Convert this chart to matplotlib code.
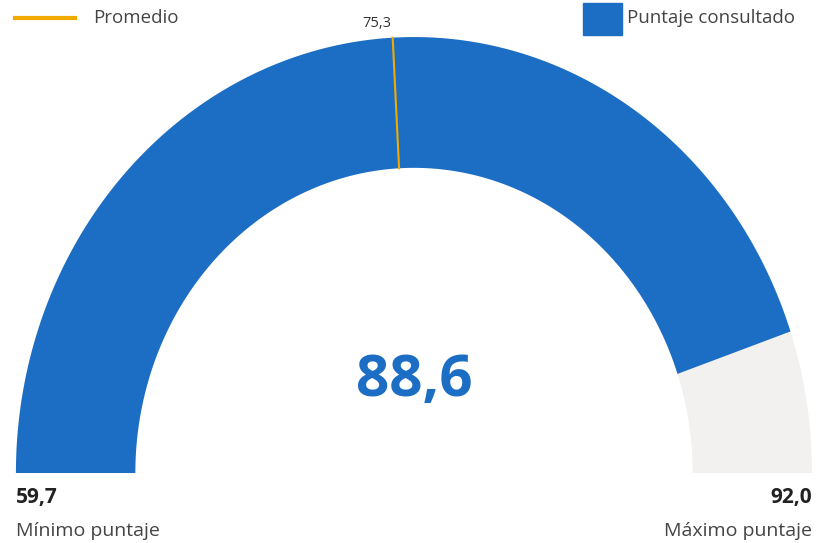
import numpy as np
import matplotlib.pyplot as plt

plt.rcParams['font.family'] = ['Open Sans', 'DejaVu Sans']

min_score = 59.7
max_score = 92.0
score = 88.6
average = 75.3
labels = ["Mínimo puntaje", "Máximo puntaje"]
legend_names = ["Promedio", "Puntaje consultado"]

blue = "#1c6ec4"
gray = "#f2f1f0"
orange = "#f0aa00"

r_in = 0.70
r_out = 1.0


def angle(v):
    return np.pi * (1 - (v - min_score) / (max_score - min_score))


def band(ax, v0, v1, color):
    t = np.linspace(angle(v0), angle(v1), 200)
    xs = np.concatenate([r_out * np.cos(t), r_in * np.cos(t[::-1])])
    ys = np.concatenate([r_out * np.sin(t), r_in * np.sin(t[::-1])])
    ax.fill(xs, ys, color=color, lw=0)


def fmt(v):
    return "{:.1f}".format(v).replace('.', ',')


fig = plt.figure(figsize=(8.16, 5.43), dpi=100)
ax = fig.add_axes([0, 0, 1, 1])
ax.set_xlim(-1.040, 1.010)
ax.set_ylim(-0.1606, 1.085)
ax.axis('off')

band(ax, min_score, max_score, gray)
band(ax, min_score, score, blue)

a = angle(average)
ax.plot([r_in * np.cos(a), r_out * np.cos(a)], [r_in * np.sin(a), r_out * np.sin(a)],
        color=orange, lw=1.5)
ax.text(r_out * np.cos(a) - 0.04, r_out * np.sin(a) + 0.015, fmt(average),
        ha='center', va='bottom', fontsize=10.5, color='#333333')

ax.text(0, 0.21, fmt(score), ha='center', va='center',
        fontsize=42, fontweight='bold', color=blue)

ax.text(-1.0, -0.057, fmt(min_score), ha='left', va='center',
        fontsize=15, fontweight='bold', color='#222222')
ax.text(-1.0, -0.133, labels[0], ha='left', va='center', fontsize=14, color='#444444')
ax.text(1.0, -0.057, fmt(max_score), ha='right', va='center',
        fontsize=15, fontweight='bold', color='#222222')
ax.text(1.0, -0.133, labels[1], ha='right', va='center', fontsize=14, color='#444444')

# legend
fig.add_artist(plt.Line2D([15 / 816, 75 / 816], [1 - 18 / 543, 1 - 18 / 543], color=orange, lw=3))
fig.text(93 / 816, 1 - 18 / 543, legend_names[0], ha='left', va='center', fontsize=13.5, color='#444444')
fig.add_artist(plt.Rectangle((583 / 816, 1 - 35 / 543), 39 / 816, 32 / 543, color=blue))
fig.text(627 / 816, 1 - 18 / 543, legend_names[1], ha='left', va='center', fontsize=13.5, color='#444444')

fig.savefig("out.png", dpi=100)
